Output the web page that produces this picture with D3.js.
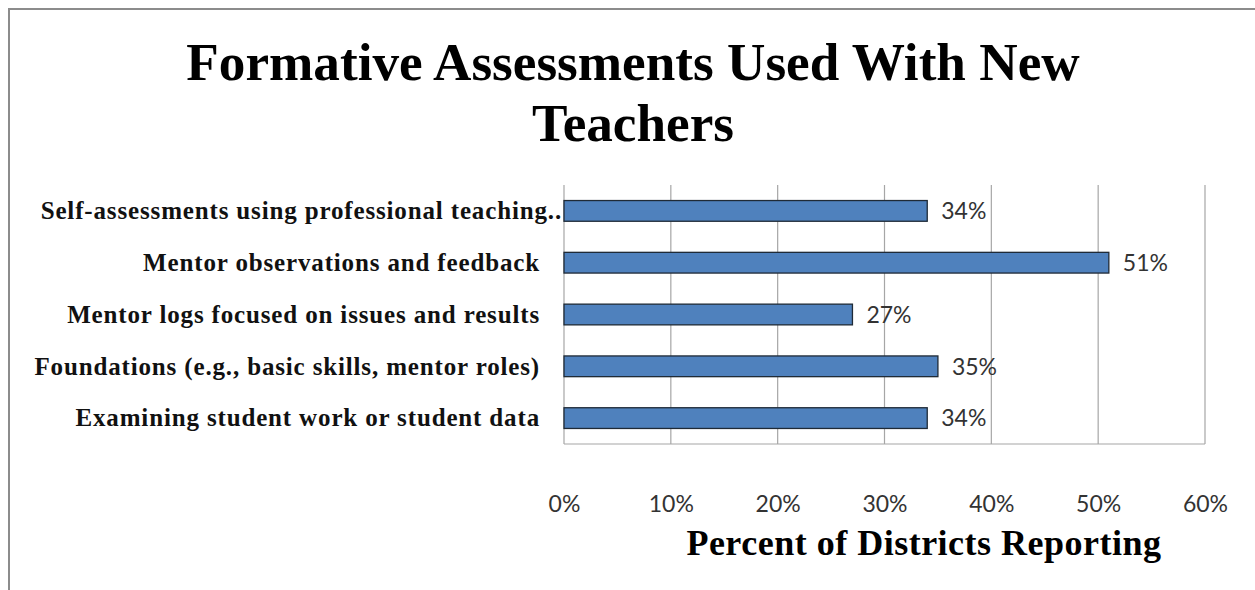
<!DOCTYPE html>
<html>
<head>
<meta charset="utf-8">
<script src="https://cdn.jsdelivr.net/npm/d3@7"></script>
<style>
  html, body { margin: 0; padding: 0; background: #fff; overflow: hidden; }
  svg { display: block; }
</style>
</head>
<body>
<svg id="chart" width="1255" height="590"></svg>
<script>
// Categories listed top to bottom, with the share of districts reporting each
const categories = [
  "Self-assessments using professional teaching..",
  "Mentor observations and feedback",
  "Mentor logs focused on issues and results",
  "Foundations (e.g., basic skills, mentor roles)",
  "Examining student work or student data"
];
const values = [0.34, 0.51, 0.27, 0.35, 0.34];
const tickValues = [0, 0.1, 0.2, 0.3, 0.4, 0.5, 0.6];
const titleLines = ["Formative Assessments Used With New", "Teachers"];
const axisTitle = "Percent of Districts Reporting";

const svg = d3.select("#chart");
const plot = { left: 564, right: 1205, top: 185, bottom: 444 };
const serif = "'Liberation Serif', 'Times New Roman', serif";
const sans = "Lato, 'Open Sans', 'Liberation Sans', sans-serif";

// Outer chart frame (runs past the right and bottom edges)
svg.append("rect")
  .attr("x", 9).attr("y", 9)
  .attr("width", 1260).attr("height", 600)
  .attr("fill", "none").attr("stroke", "#8c8c8c").attr("stroke-width", 2);

const x = d3.scaleLinear().domain([0, 0.6]).range([plot.left, plot.right]);
const y = d3.scaleBand().domain(categories).range([plot.top, plot.bottom]).paddingInner(0.6).paddingOuter(0.3);

// Vertical gridlines
svg.append("g").selectAll("line")
  .data(tickValues.slice(1))
  .join("line")
  .attr("x1", d => x(d)).attr("x2", d => x(d))
  .attr("y1", plot.top).attr("y2", plot.bottom)
  .attr("stroke", "#a6a6a6").attr("stroke-width", 1.2);

// Left and bottom axis lines
svg.append("line")
  .attr("x1", plot.left).attr("x2", plot.left)
  .attr("y1", plot.top).attr("y2", plot.bottom)
  .attr("stroke", "#a6a6a6").attr("stroke-width", 1.2);
svg.append("line")
  .attr("x1", plot.left).attr("x2", plot.right)
  .attr("y1", plot.bottom).attr("y2", plot.bottom)
  .attr("stroke", "#a6a6a6").attr("stroke-width", 1.2);

// Bars
svg.append("g").selectAll("rect")
  .data(categories)
  .join("rect")
  .attr("x", x(0))
  .attr("y", d => y(d))
  .attr("width", (d, i) => x(values[i]) - x(0))
  .attr("height", y.bandwidth())
  .attr("fill", "#4f81bd")
  .attr("stroke", "#1f2a36").attr("stroke-width", 1.3);

// Value labels
svg.append("g").selectAll("text")
  .data(categories)
  .join("text")
  .attr("x", (d, i) => x(values[i]) + 14)
  .attr("y", d => y(d) + y.bandwidth() / 2)
  .attr("dy", "0.36em")
  .attr("font-family", sans).attr("font-size", 23).attr("fill", "#333")
  .text((d, i) => d3.format(".0%")(values[i]));

// Category labels
svg.append("g").selectAll("text")
  .data(categories)
  .join("text")
  .attr("x", (d, i) => i === 0 ? 562 : 540)
  .attr("y", d => y(d) + y.bandwidth() / 2)
  .attr("dy", "0.33em")
  .attr("text-anchor", "end")
  .attr("font-family", serif).attr("font-weight", "bold").attr("font-size", 25)
  .attr("letter-spacing", 0.85)
  .attr("fill", "#111")
  .text(d => d);

// X axis tick labels
const xAxis = d3.axisBottom(x).tickValues(tickValues).tickFormat(d3.format(".0%")).tickSize(0).tickPadding(0);
const gx = svg.append("g").attr("transform", `translate(0, ${plot.bottom + 52})`).call(xAxis);
gx.select(".domain").remove();
gx.selectAll("text")
  .attr("font-family", sans).attr("font-size", 23).attr("fill", "#333");

// Title
svg.append("text")
  .attr("text-anchor", "middle")
  .attr("font-family", serif).attr("font-weight", "bold").attr("font-size", 53.2)
  .attr("fill", "#000")
  .selectAll("tspan")
  .data(titleLines)
  .join("tspan")
  .attr("x", 633)
  .attr("y", (d, i) => 80 + i * 61)
  .text(d => d);

// Axis title
svg.append("text")
  .attr("x", 924).attr("y", 555)
  .attr("text-anchor", "middle")
  .attr("font-family", serif).attr("font-weight", "bold").attr("font-size", 36)
  .attr("letter-spacing", 0.5)
  .attr("fill", "#000")
  .text(axisTitle);
</script>
</body>
</html>
